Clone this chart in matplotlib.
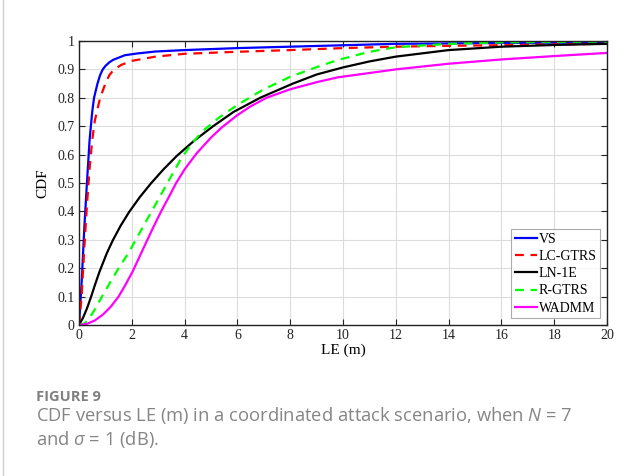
import matplotlib
matplotlib.use("Agg")
import matplotlib.pyplot as plt
from matplotlib.lines import Line2D

# CDF curves (LE in metres)
vs_x = [0, 0.1, 0.2, 0.3, 0.4, 0.5, 0.57, 0.7, 0.8, 0.9, 1.0, 1.15, 1.3, 1.74, 2.2, 2.9, 4, 6, 8, 10, 12, 16, 20]
vs_y = [0, 0.15, 0.34, 0.5, 0.65, 0.75, 0.8, 0.85, 0.88, 0.9, 0.912, 0.925, 0.934, 0.95, 0.956, 0.963, 0.968,
        0.975, 0.98, 0.985, 0.99, 0.993, 0.995]

lc_x = [0, 0.1, 0.2, 0.3, 0.4, 0.5, 0.6, 0.8, 1.0, 1.15, 1.3, 1.6, 2, 2.9, 4, 6, 8, 10, 12, 14, 16, 18, 20]
lc_y = [0, 0.1, 0.27, 0.42, 0.55, 0.65, 0.72, 0.8, 0.85, 0.88, 0.897, 0.916, 0.93, 0.945, 0.955, 0.962, 0.968,
        0.975, 0.98, 0.983, 0.985, 0.988, 0.99]

ln_x = [0, 0.15, 0.3, 0.46, 0.6, 0.77, 1.05, 1.28, 1.58, 1.9, 2.3, 2.72, 3.2, 3.7, 4.35, 5.08, 5.85, 6.86,
        8.1, 9, 10, 11, 12, 14, 16, 18, 20]
ln_y = [0, 0.025, 0.058, 0.1, 0.14, 0.186, 0.252, 0.298, 0.35, 0.398, 0.45, 0.498, 0.548, 0.595, 0.648, 0.7,
        0.75, 0.8, 0.85, 0.882, 0.907, 0.928, 0.945, 0.968, 0.98, 0.986, 0.99]

rg_x = [0, 0.2, 0.4, 0.6, 0.87, 1.18, 1.5, 1.85, 2.15, 2.45, 2.75, 3.05, 3.35, 3.83, 4.2, 4.65, 5.3, 6, 7, 8,
        9, 9.8, 11, 12, 14, 16, 20]
rg_y = [0, 0.005, 0.025, 0.055, 0.1, 0.15, 0.2, 0.25, 0.3, 0.35, 0.4, 0.45, 0.5, 0.58, 0.63, 0.68, 0.73, 0.775,
        0.83, 0.874, 0.908, 0.933, 0.962, 0.978, 0.99, 0.995, 0.998]

wa_x = [0, 0.3, 0.6, 0.9, 1.2, 1.5, 1.75, 2.04, 2.29, 2.54, 2.82, 3.11, 3.4, 3.68, 4.0, 4.46, 5.0, 5.4, 6, 6.5,
        7.1, 8, 9, 9.8, 12, 14, 16, 18, 20]
wa_y = [0, 0.004, 0.016, 0.036, 0.064, 0.1, 0.14, 0.19, 0.24, 0.29, 0.345, 0.4, 0.45, 0.5, 0.548, 0.605, 0.66,
        0.695, 0.739, 0.77, 0.8, 0.83, 0.855, 0.872, 0.9, 0.92, 0.935, 0.947, 0.958]

labels = ["VS", "LC-GTRS", "LN-1E", "R-GTRS", "WADMM"]
x_ticks = list(range(0, 21, 2))
y_ticks = [i / 10 for i in range(11)]
y_tick_labels = ["0"] + [f"{t:.1f}" for t in y_ticks[1:-1]] + ["1"]

plt.rcParams['mathtext.fontset'] = 'custom'
plt.rcParams['mathtext.it'] = 'Open Sans:italic'
plt.rcParams['mathtext.rm'] = 'Open Sans'

fig = plt.figure(figsize=(6.41, 4.76), dpi=100)
ax = fig.add_axes([79 / 641, 1 - 325 / 476, 528 / 641, 284 / 476])

serif = 'Liberation Serif'
ax.plot(vs_x, vs_y, color='#0000FF', lw=1.6, label=labels[0])
ax.plot(lc_x, lc_y, color='#FF0000', lw=1.6, ls=(0, (4, 3)), label=labels[1])
ax.plot(ln_x, ln_y, color='black', lw=1.6, label=labels[2])
ax.plot(rg_x, rg_y, color='#00FF00', lw=1.6, ls=(0, (4, 3)), label=labels[3])
ax.plot(wa_x, wa_y, color='#FF00FF', lw=1.6, label=labels[4])

ax.set_xlim(0, 20)
ax.set_ylim(0, 1)
ax.set_xticks(x_ticks)
ax.set_xticklabels([str(t) for t in x_ticks], fontfamily=serif, fontsize=10)
ax.set_yticks(y_ticks)
ax.set_yticklabels(y_tick_labels, fontfamily=serif, fontsize=10)
ax.tick_params(direction='in', top=True, right=True, length=4, width=0.8, colors='#222222', pad=3)
ax.grid(True, color='#dcdcdc', lw=0.8)
ax.set_axisbelow(True)
for s in ax.spines.values():
    s.set_color('#222222')
    s.set_linewidth(1.0)

ax.set_xlabel("LE (m)", fontfamily=serif, fontsize=11, labelpad=1)
ax.set_ylabel("CDF", fontfamily=serif, fontsize=11, labelpad=6)

leg = ax.legend(loc='lower right', prop={'family': serif, 'size': 10},
                frameon=True, fancybox=False, edgecolor='#999999',
                handlelength=1.6, handletextpad=0.1, borderpad=0.25,
                labelspacing=0.3, borderaxespad=0.5)
leg.get_frame().set_linewidth(0.8)

# page border on the left
fig.add_artist(Line2D([3 / 641, 3 / 641], [0, 1], color='#d0d0d0', lw=1.0))

fig.text(36 / 641, 1 - 397 / 476, "FIGURE 9", fontfamily='Open Sans', fontweight='bold',
         fontsize=10.5, color='#808080', va='center')
fig.text(36 / 641, 1 - 416 / 476,
         r"CDF versus LE (m) in a coordinated attack scenario, when $N$ = 7",
         fontfamily='Open Sans', fontsize=13.2, color='#858585', va='center')
fig.text(36 / 641, 1 - 439 / 476, r"and $\sigma$ = 1 (dB).",
         fontfamily='Open Sans', fontsize=13.2, color='#858585', va='center')

fig.savefig("out.png", dpi=100)
